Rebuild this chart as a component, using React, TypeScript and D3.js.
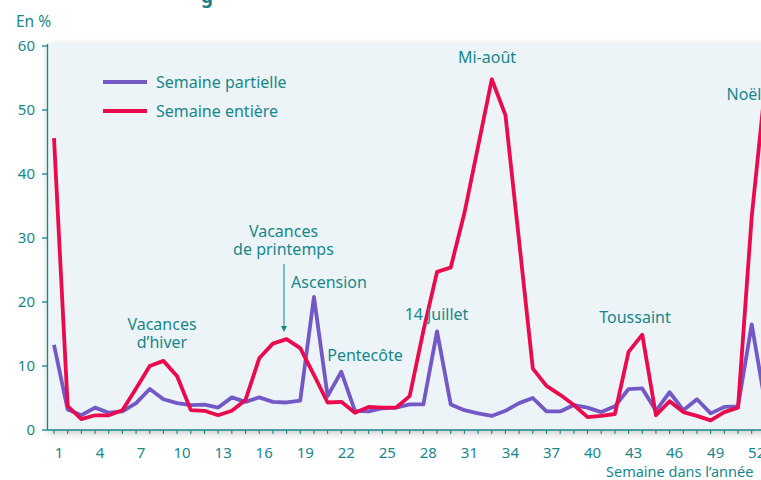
import React from 'react'
import * as d3 from 'd3'

const width = 761
const height = 480
const teal = '#18878c'
const font = '"Noto Sans", sans-serif'

const weeks = [
  1, 2, 3, 4, 5, 6, 7, 8, 9, 10, 11, 12, 13, 14, 15, 16, 17, 18, 19, 20, 21, 22, 23, 24, 25, 26,
  27, 28, 29, 30, 31, 32, 33, 34, 35, 36, 37, 38, 39, 40, 41, 42, 43, 44, 45, 46, 47, 48, 49, 50,
  51, 52, 53,
]
const partielle = [
  13.3, 3.2, 2.3, 3.5, 2.7, 2.9, 4.2, 6.4, 4.8, 4.2, 3.9, 3.95, 3.5, 5.1, 4.4, 5.1, 4.4, 4.3, 4.6,
  20.8, 5.3, 9.1, 3.0, 2.9, 3.4, 3.5, 4.0, 4.0, 15.4, 4.0, 3.1, 2.6, 2.2, 3.0, 4.2, 5.0, 2.9, 2.9,
  3.9, 3.5, 2.8, 3.7, 6.4, 6.5, 3.0, 5.9, 3.1, 4.8, 2.6, 3.6, 3.7, 16.5, 4.0,
]
const entiere = [
  45.6, 3.75, 1.7, 2.3, 2.3, 3.1, 6.5, 10.0, 10.8, 8.4, 3.1, 3.0, 2.3, 3.0, 4.7, 11.2, 13.5, 14.2,
  12.8, 8.6, 4.3, 4.4, 2.7, 3.6, 3.5, 3.5, 5.3, 15.5, 24.7, 25.4, 33.9, 44.3, 54.8, 49.2, 29.5,
  9.6, 6.9, 5.5, 3.9, 2.0, 2.2, 2.5, 12.2, 14.9, 2.3, 4.5, 2.8, 2.2, 1.5, 2.8, 3.5, 33.3, 54,
]
const yTicks = [0, 10, 20, 30, 40, 50, 60]
const xTickLabels = [1, 4, 7, 10, 13, 16, 19, 22, 25, 28, 31, 34, 37, 40, 43, 46, 49, 52]

// annotation labels (one entry per text line)
const notes = [
  {text: 'Vacances', x: 162, y: 330},
  {text: 'd\u2019hiver', x: 162, y: 348},
  {text: 'Vacances', x: 283.5, y: 237},
  {text: 'de printemps', x: 283.5, y: 255},
  {text: 'Ascension', x: 329, y: 288},
  {text: 'Pentec\u00f4te', x: 365, y: 360.5},
  {text: '14 juillet', x: 436.5, y: 320},
  {text: 'Mi-ao\u00fbt', x: 487, y: 63},
  {text: 'Toussaint', x: 635, y: 323},
  {text: 'No\u00ebl', x: 744, y: 100},
]

const App = () => {
  const x = d3.scaleLinear().domain([1, 52]).range([54, 751.7])
  const y = d3.scaleLinear().domain([0, 60]).range([430, 46])

  const line = d3
    .line<number>()
    .x((_, i) => x(weeks[i]))
    .y(d => y(d))

  return (
    <svg
      width={width}
      height={height}
      style={{position: 'absolute', left: 0, top: 0, fontFamily: font}}
    >
      <defs>
        <filter id="shadow" x="-10%" y="-10%" width="120%" height="125%">
          <feDropShadow dx="0" dy="3" stdDeviation="4" floodColor="#000" floodOpacity="0.22" />
        </filter>
      </defs>
      <rect width={width} height={height} fill="#fff" />
      <text x={201} y={3} fontSize={19} fontWeight="bold" fill="#1f7d83">
        g
      </text>

      <rect x={48} y={43} width={740} height={387} fill="#ecf4f7" filter="url(#shadow)" />

      {/* y axis */}
      <text x={16} y={27} fontSize={15.5} fill={teal}>
        En %
      </text>
      <line x1={47.5} x2={47.5} y1={44} y2={430} stroke={teal} strokeWidth={1.3} />
      {yTicks.map(t => (
        <g key={t}>
          <line x1={42} x2={47.5} y1={y(t)} y2={y(t)} stroke={teal} strokeWidth={1.3} />
          <text x={35} y={y(t)} dy="0.36em" textAnchor="end" fontSize={15} fill={teal}>
            {t}
          </text>
        </g>
      ))}

      {/* x axis */}
      <line x1={47.5} x2={width} y1={430} y2={430} stroke={teal} strokeWidth={1.3} />
      {weeks.map(w => (
        <line key={w} x1={x(w)} x2={x(w)} y1={430} y2={434} stroke={teal} strokeWidth={1.1} />
      ))}
      {xTickLabels.map(w => (
        <text key={w} x={x(w) + 5} y={458} textAnchor="middle" fontSize={15} fill={teal}>
          {w}
        </text>
      ))}
      <text x={606} y={477} fontSize={14.5} fill={teal}>
        Semaine dans l’année
      </text>

      {/* series */}
      <path
        d={line(partielle) ?? ''}
        fill="none"
        stroke="#7459c6"
        strokeWidth={3.8}
        strokeLinejoin="round"
      />
      <path
        d={line(entiere) ?? ''}
        fill="none"
        stroke="#ea0a4e"
        strokeWidth={3.8}
        strokeLinejoin="round"
      />

      {/* legend */}
      <line x1={103} x2={147} y1={82} y2={82} stroke="#7459c6" strokeWidth={4} />
      <text x={156} y={87.5} fontSize={16} fill={teal}>
        Semaine partielle
      </text>
      <line x1={103} x2={147} y1={111} y2={111} stroke="#ea0a4e" strokeWidth={4} />
      <text x={156} y={116.5} fontSize={16} fill={teal}>
        Semaine entière
      </text>

      {/* annotations */}
      {notes.map((n, i) => (
        <text key={i} x={n.x} y={n.y} textAnchor="middle" fontSize={16} fill={teal}>
          {n.text}
        </text>
      ))}
      <line x1={284} x2={284} y1={264} y2={327} stroke={teal} strokeWidth={1} />
      <path d="M281,326 L287,326 L284,332 Z" fill={teal} />
    </svg>
  )
}

export default App
